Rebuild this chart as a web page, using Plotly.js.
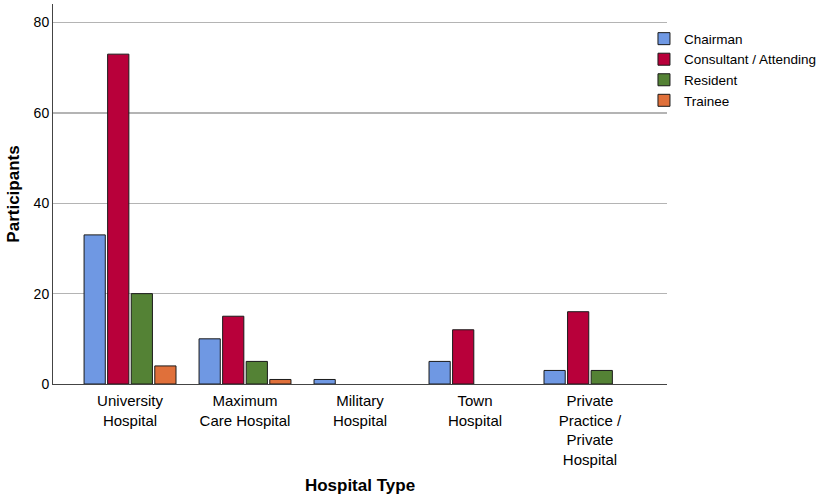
<!DOCTYPE html>
<html>
<head>
<meta charset="utf-8">
<script src="https://cdn.plot.ly/plotly-3.0.1.min.js"></script>
<style>html,body{margin:0;padding:0;background:#fff;}#chart{width:829px;height:497px;}</style>
</head>
<body>
<div id="chart"></div>
<script>
var categories = ["University<br>Hospital", "Maximum<br>Care Hospital", "Military<br>Hospital", "Town<br>Hospital", "Private<br>Practice /<br>Private<br>Hospital"];
var chairman = [33, 10, 1, 5, 3];
var consultant = [73, 15, null, 12, 16];
var resident = [20, 5, null, null, 3];
var trainee = [4, 1, null, null, null];
var seriesNames = ["Chairman", "Consultant / Attending", "Resident", "Trainee"];
var seriesColors = ["#6f98e3", "#b8003a", "#548235", "#e0703a"];
var yTicks = [0, 20, 40, 60, 80];

var values = [chairman, consultant, resident, trainee];
var data = values.map(function (v, i) {
  return {
    type: "bar",
    x: categories,
    y: v,
    name: seriesNames[i],
    marker: {color: seriesColors[i], line: {color: "#1a1a1a", width: 1}},
    hoverinfo: "x+y+name"
  };
});

var layout = {
  width: 829,
  height: 497,
  margin: {l: 53, r: 162, t: 4, b: 113, autoexpand: false},
  paper_bgcolor: "#fff",
  plot_bgcolor: "#fff",
  barmode: "group",
  bargap: 0.18,
  bargroupgap: 0.1,
  font: {family: "Liberation Sans, Arial, sans-serif", color: "#000"},
  xaxis: {
    type: "category",
    range: [-0.67, 4.67],
    showline: true,
    linecolor: "#444",
    linewidth: 1,
    ticks: "",
    tickfont: {size: 15, color: "#000"},
    ticklabelstandoff: 3,
    showgrid: false,
    zeroline: false,
    automargin: false,
    title: {text: "<b>Hospital Type</b>", font: {size: 17, color: "#000"}, standoff: 12}
  },
  yaxis: {
    range: [0, 84.1],
    tickvals: yTicks,
    ticktext: yTicks.map(String),
    showline: true,
    linecolor: "#444",
    linewidth: 1,
    ticks: "",
    ticklen: 0,
    tickfont: {size: 14, color: "#000"},
    showgrid: true,
    gridcolor: "#b4b4b4",
    gridwidth: 1.3,
    zeroline: false,
    automargin: false,
    title: {text: "<b>Participants</b>", font: {size: 17, color: "#000"}, standoff: 9}
  },
  legend: {
    x: 0.9625, xanchor: "left",
    y: 0.949, yanchor: "top",
    font: {size: 13.5, color: "#000"},
    itemwidth: 30,
    tracegroupgap: 0,
    bgcolor: "rgba(0,0,0,0)"
  },
  showlegend: true
};

Plotly.newPlot("chart", data, layout, {displayModeBar: false, staticPlot: true});
</script>
</body>
</html>
